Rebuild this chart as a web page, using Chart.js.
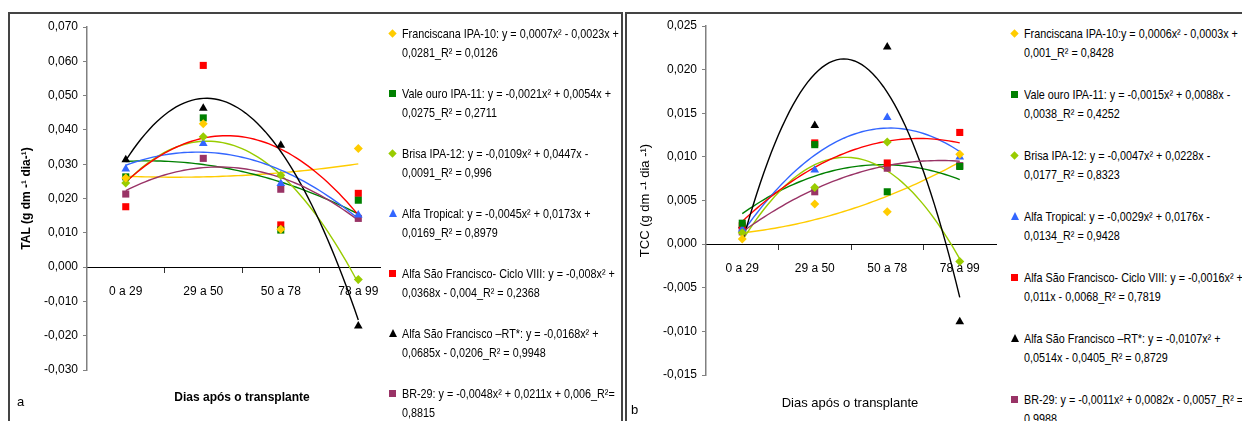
<!DOCTYPE html>
<html lang="pt">
<head>
    <meta charset="UTF-8">
    <title>TAL e TCC</title>
    <style>
        body {
            margin: 0;
            width: 1242px;
            height: 421px;
            background: #fff;
            position: relative;
            overflow: hidden;
            font-family: "Liberation Sans", Arial, sans-serif;
            color: #000;
        }
        .frame {
            position: absolute;
            top: 12px;
            height: 412px;
            border-top: 2px solid #444;
            border-left: 2px solid #444;
        }
        canvas { position: absolute; }
        .legend {
            position: absolute;
            top: 24px;
            font-size: 13px;
            line-height: 19px;
            white-space: nowrap;
        }
        .item { position: relative; }
        .txt { margin-left: 14px; transform: scaleX(0.83); transform-origin: 0 0; }
        .mark { position: absolute; left: 1px; top: 6px; width: 7px; height: 7px; }
        .mark.diamond { transform: rotate(45deg) scale(0.85); }
        .mark.triangle { width: 0; height: 0; background: none !important;
            border-left: 4px solid transparent; border-right: 4px solid transparent; border-bottom: 8px solid; top: 5px; }
        .label { position: absolute; font-size: 12px; }
    </style>
</head>
<body>
    <div class="frame" style="left:8px; width:611px; border-right:2px solid #444;"></div>
    <div class="frame" style="left:625px; width:620px;"></div>

    <canvas id="talChart" width="375" height="408" style="left:10px; top:12px;"></canvas>
    <canvas id="tccChart" width="372" height="408" style="left:629px; top:12px;"></canvas>

    <div class="legend" id="talLegend" style="left:388px;"></div>
    <div class="legend" id="tccLegend" style="left:1010px;"></div>

    <div class="label" style="left:142px; width:200px; top:390px; text-align:center; font-weight:bold;">Dias após o transplante</div>
    <div class="label" style="left:17px; top:394px; font-size:13px;">a</div>
    <div class="label" style="left:750px; width:200px; top:395px; text-align:center; font-size:13px;">Dias após o transplante</div>
    <div class="label" style="left:631px; top:402px; font-size:13px;">b</div>

    <script src="https://cdn.jsdelivr.net/npm/chart.js"></script>
    <script>
        const categories = ['0 a 29', '29 a 50', '50 a 78', '78 a 99'];

        const seriesNames = ['Franciscana IPA-10', 'Vale ouro IPA-11', 'Brisa IPA-12', 'Alfa Tropical',
            'Alfa São Francisco- Ciclo VIII', 'Alfa São Francisco –RT*', 'BR-29'];
        const colors = ['#FFCC00', '#008000', '#99CC00', '#3366FF', '#FF0000', '#000000', '#993366'];
        const markers = ['rectRot', 'rect', 'rectRot', 'triangle', 'rect', 'triangle', 'rect'];

        // TAL (chart a), one array per cultivar
        const talFranciscana = [0.0260, 0.0418, 0.0110, 0.0346];
        const talValeOuro = [0.0263, 0.0435, 0.0108, 0.0195];
        const talBrisa = [0.0245, 0.0380, 0.0268, -0.0036];
        const talAlfaTropical = [0.0286, 0.0360, 0.0244, 0.0152];
        const talAlfaSFCiclo = [0.0176, 0.0588, 0.0123, 0.0215];
        const talAlfaSFRT = [0.0313, 0.0463, 0.0355, -0.0172];
        const talBR29 = [0.0213, 0.0317, 0.0227, 0.0142];

        // TCC (chart b)
        const tccFranciscana = [0.0006, 0.0046, 0.0037, 0.0103];
        const tccValeOuro = [0.0024, 0.0114, 0.0060, 0.0089];
        const tccBrisa = [0.0013, 0.0065, 0.0117, -0.0020];
        const tccAlfaTropical = [0.0017, 0.0085, 0.0145, 0.0100];
        const tccAlfaSFCiclo = [0.0021, 0.0116, 0.0093, 0.0128];
        const tccAlfaSFRT = [0.0021, 0.0136, 0.0226, -0.0089];
        const tccBR29 = [0.0014, 0.0060, 0.0087, 0.0090];

        // trendline coefficients (y = a x² + b x + c), as printed in the legends
        const talA = [0.0007, -0.0021, -0.0109, -0.0045, -0.008, -0.0168, -0.0048];
        const talB = [-0.0023, 0.0054, 0.0447, 0.0173, 0.0368, 0.0685, 0.0211];
        const talC = [0.0281, 0.0275, -0.0091, 0.0169, -0.004, -0.0206, 0.006];
        const tccA = [0.0006, -0.0015, -0.0047, -0.0029, -0.0016, -0.0107, -0.0011];
        const tccB = [-0.0003, 0.0088, 0.0228, 0.0176, 0.011, 0.0514, 0.0082];
        const tccC = [0.001, -0.0038, -0.0177, -0.0134, -0.0068, -0.0405, -0.0057];

        const talEquations = [
            ['Franciscana IPA-10: y = 0,0007x² - 0,0023x +', '0,0281_R² = 0,0126'],
            ['Vale ouro IPA-11: y = -0,0021x² + 0,0054x +', '0,0275_R² = 0,2711'],
            ['Brisa IPA-12: y = -0,0109x² + 0,0447x -', '0,0091_R² = 0,996'],
            ['Alfa Tropical: y = -0,0045x² + 0,0173x +', '0,0169_R² = 0,8979'],
            ['Alfa São Francisco- Ciclo VIII: y = -0,008x² +', '0,0368x - 0,004_R² = 0,2368'],
            ['Alfa São Francisco –RT*: y = -0,0168x² +', '0,0685x - 0,0206_R² = 0,9948'],
            ['BR-29: y = -0,0048x² + 0,0211x + 0,006_R²=', '0,8815']
        ];
        const tccEquations = [
            ['Franciscana IPA-10:y = 0,0006x² - 0,0003x +', '0,001_R² = 0,8428'],
            ['Vale ouro IPA-11: y = -0,0015x² + 0,0088x -', '0,0038_R² = 0,4252'],
            ['Brisa IPA-12: y = -0,0047x² + 0,0228x -', '0,0177_R² = 0,8323'],
            ['Alfa Tropical: y = -0,0029x² + 0,0176x -', '0,0134_R² = 0,9428'],
            ['Alfa São Francisco- Ciclo VIII: y = -0,0016x² +', '0,011x - 0,0068_R² = 0,7819'],
            ['Alfa São Francisco –RT*: y = -0,0107x² +', '0,0514x - 0,0405_R² = 0,8729'],
            ['BR-29: y = -0,0011x² + 0,0082x - 0,0057_R² =', '0,9988']
        ];

        // draws the polynomial trendlines between the first and last category
        const trendPlugin = {
            id: 'trend',
            beforeDatasetsDraw(chart, args, opts) {
                const { ctx, scales: { x, y } } = chart;
                opts.a.forEach((a, k) => {
                    const b = opts.b[k], c = opts.c[k];
                    ctx.save();
                    ctx.strokeStyle = colors[k];
                    ctx.lineWidth = 1.4;
                    ctx.beginPath();
                    for (let i = 0; i <= 60; i++) {
                        const t = 1 + i * 3 / 60;
                        const px = x.getPixelForValue(t);
                        const py = y.getPixelForValue(a * t * t + b * t + c);
                        if (i === 0) ctx.moveTo(px, py); else ctx.lineTo(px, py);
                    }
                    ctx.stroke();
                    ctx.restore();
                });
            }
        };

        const fmt = v => (Math.abs(v) < 1e-9 ? 0 : v).toFixed(3).replace('.', ',');

        function makeChart(id, seriesList, fits, yOpts, xMax, padding, yTitle, titleBold) {
            const datasets = seriesList.map((vals, k) => ({
                label: seriesNames[k],
                data: vals.map((v, i) => ({ x: i + 1, y: v })),
                showLine: false,
                pointStyle: markers[k],
                pointRadius: markers[k] === 'rectRot' ? 4.5 : 5,
                backgroundColor: colors[k],
                borderColor: colors[k],
                borderWidth: 0
            }));
            return new Chart(document.getElementById(id), {
                type: 'line',
                data: { datasets },
                plugins: [trendPlugin],
                options: {
                    responsive: false,
                    animation: false,
                    layout: { padding },
                    plugins: {
                        legend: { display: false },
                        tooltip: { enabled: false },
                        trend: fits
                    },
                    scales: {
                        x: {
                            type: 'linear',
                            position: { y: 0 },
                            min: 0.5,
                            max: xMax,
                            afterBuildTicks: s => { s.ticks = [1, 1.5, 2, 2.5, 3, 3.5, 4].map(v => ({ value: v })); },
                            afterFit: s => { s.paddingLeft = 0; s.paddingRight = 0; },
                            ticks: {
                                autoSkip: false,
                                maxRotation: 0,
                                padding: 12,
                                color: '#000',
                                font: { family: 'Liberation Sans', size: 12 },
                                callback: v => Number.isInteger(v) ? categories[v - 1] : ''
                            },
                            grid: {
                                drawOnChartArea: false,
                                tickLength: 5,
                                color: c => (c.tick && c.tick.value % 1) ? '#333' : 'rgba(0,0,0,0)'
                            },
                            border: { color: '#000', width: 1 }
                        },
                        y: {
                            min: yOpts.min,
                            max: yOpts.max,
                            afterFit: s => { s.width = 77; },
                            ticks: {
                                stepSize: yOpts.step,
                                padding: 5,
                                color: '#000',
                                font: { family: 'Liberation Sans', size: 12 },
                                callback: fmt
                            },
                            grid: { drawOnChartArea: false, tickLength: 4, color: '#808080' },
                            border: { color: '#808080', width: 1.5 },
                            title: {
                                display: true,
                                text: yTitle,
                                color: '#000',
                                padding: { top: 9, bottom: 0 },
                                font: { family: 'Liberation Sans', size: titleBold ? 12 : 13, weight: titleBold ? 'bold' : 'normal' }
                            }
                        }
                    }
                }
            });
        }

        makeChart('talChart',
            [talFranciscana, talValeOuro, talBrisa, talAlfaTropical, talAlfaSFCiclo, talAlfaSFRT, talBR29],
            { a: talA, b: talB, c: talC },
            { min: -0.03, max: 0.07, step: 0.01 }, 4.28,
            { top: 15, bottom: 50, left: 0, right: 3 },
            'TAL (g dm -¹ dia-¹)', true);

        makeChart('tccChart',
            [tccFranciscana, tccValeOuro, tccBrisa, tccAlfaTropical, tccAlfaSFCiclo, tccAlfaSFRT, tccBR29],
            { a: tccA, b: tccB, c: tccC },
            { min: -0.015, max: 0.025, step: 0.005 }, 4.5,
            { top: 14, bottom: 45, left: 0, right: 4 },
            'TCC (g dm -¹ dia -¹)', false);

        function buildLegend(id, lines, gap) {
            const box = document.getElementById(id);
            lines.forEach((pair, k) => {
                const item = document.createElement('div');
                item.className = 'item';
                item.style.height = gap + 'px';
                const m = document.createElement('span');
                m.className = 'mark' + (markers[k] === 'rectRot' ? ' diamond' : markers[k] === 'triangle' ? ' triangle' : '');
                m.style.background = colors[k];
                m.style.borderBottomColor = colors[k];
                item.appendChild(m);
                const t = document.createElement('div');
                t.className = 'txt';
                t.appendChild(document.createTextNode(pair[0]));
                t.appendChild(document.createElement('br'));
                t.appendChild(document.createTextNode(pair[1]));
                item.appendChild(t);
                box.appendChild(item);
            });
        }
        buildLegend('talLegend', talEquations, 60);
        buildLegend('tccLegend', tccEquations, 61);
    </script>
</body>
</html>
